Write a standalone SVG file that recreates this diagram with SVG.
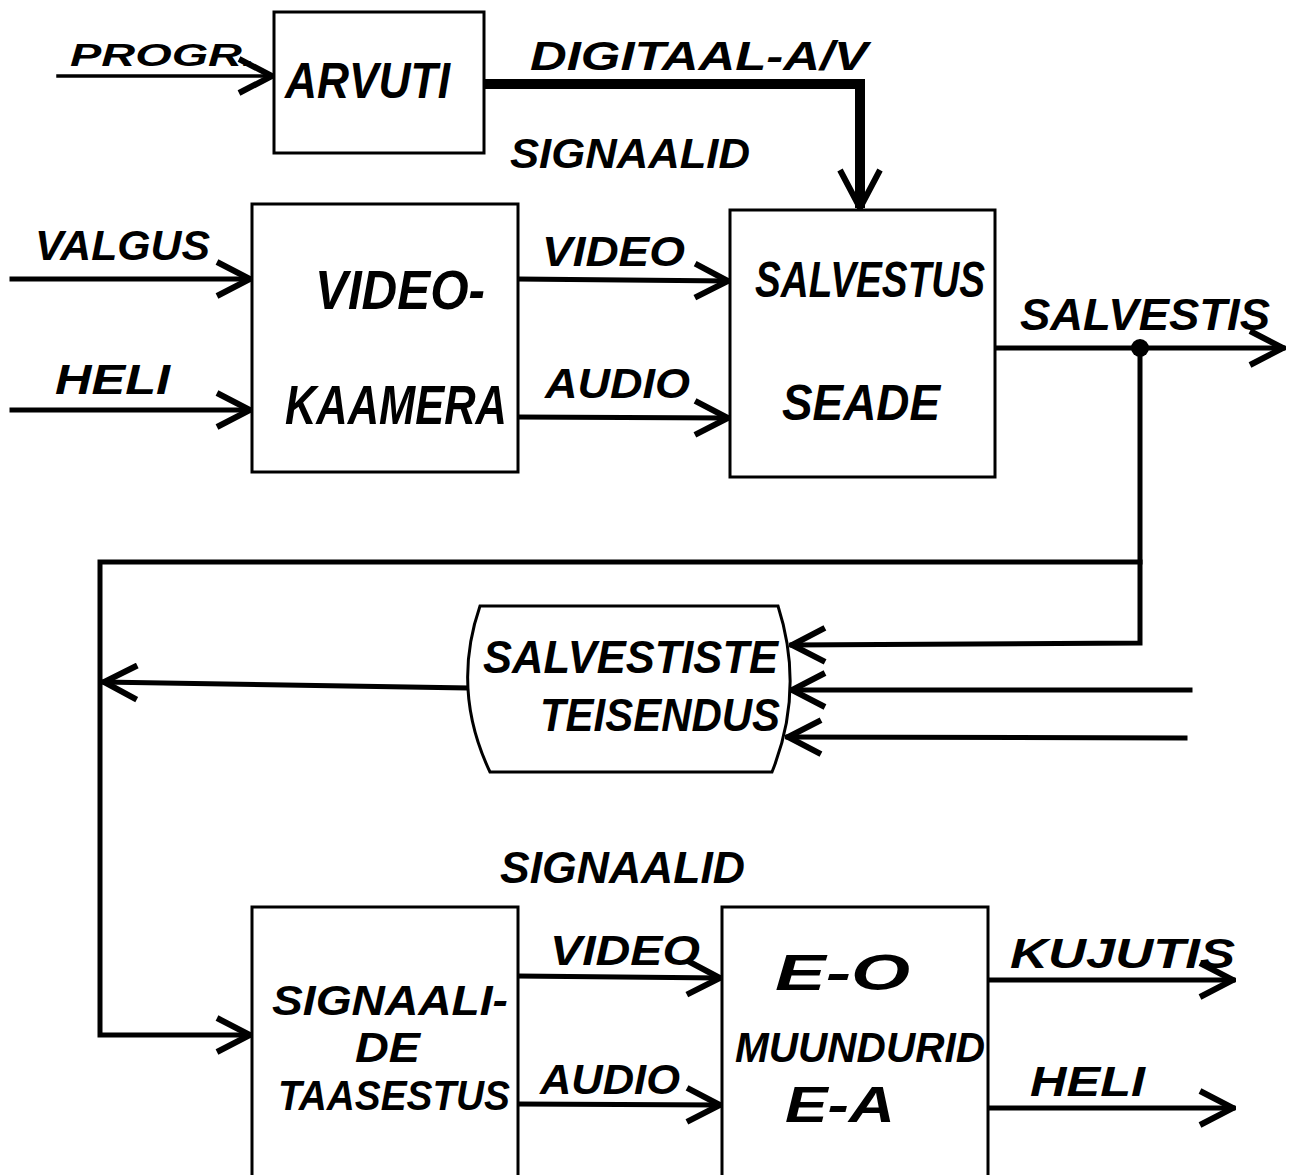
<svg xmlns="http://www.w3.org/2000/svg" width="1289" height="1175" viewBox="0 0 1289 1175">
<style>
.box{fill:#fff;stroke:#000;stroke-width:3}
.ln{fill:none;stroke:#000;stroke-width:5;stroke-linecap:square}
.thick{fill:none;stroke:#000;stroke-width:10}
text{font-family:"Liberation Sans",Arial,sans-serif;font-style:italic;font-weight:bold;fill:#000}
.s{font-size:38px}
.m{font-size:46px}
.l{font-size:56px}
</style>
<defs>
<marker id="ah" viewBox="0 0 40 40" refX="37" refY="20" markerWidth="40" markerHeight="40" markerUnits="userSpaceOnUse" orient="auto">
<path d="M4,3 L37,20 L4,37" fill="none" stroke="#000" stroke-width="6"/>
</marker>
<marker id="ahb" viewBox="0 0 48 48" refX="44" refY="24" markerWidth="48" markerHeight="48" markerUnits="userSpaceOnUse" orient="auto">
<path d="M6,4 L44,24 L6,44" fill="none" stroke="#000" stroke-width="6"/>
</marker>
</defs>
<rect width="1289" height="1175" fill="#fff"/>
<g id="connectors">
<path class="ln" d="M58,76 L272,76" marker-end="url(#ah)" style="stroke-width:3.5"/>
<path class="thick" d="M484,84 L860,84 L860,208" marker-end="url(#ahb)" style="stroke-linecap:butt;stroke-linejoin:miter"/>
<path class="ln" d="M12,279 L250,279" marker-end="url(#ah)"/>
<path class="ln" d="M12,410 L250,410" marker-end="url(#ah)"/>
<path class="ln" d="M518,279 L728,281" marker-end="url(#ah)"/>
<path class="ln" d="M518,417 L728,418" marker-end="url(#ah)"/>
<path class="ln" d="M995,348 L1283,348" marker-end="url(#ah)"/>
<path class="ln" d="M1140,348 L1140,643 L792,645" marker-end="url(#ah)" style="stroke-linejoin:miter"/>
<path class="ln" d="M1140,562 L100,562 L100,1035 L250,1035" marker-end="url(#ah)" style="stroke-linejoin:miter"/>
<path class="ln" d="M1190,690 L792,690" marker-end="url(#ah)"/>
<path class="ln" d="M1185,738 L788,737" marker-end="url(#ah)"/>
<path class="ln" d="M468,688 L104,682" marker-end="url(#ah)"/>
<path class="ln" d="M518,976 L720,978" marker-end="url(#ah)"/>
<path class="ln" d="M518,1104 L720,1105" marker-end="url(#ah)"/>
<path class="ln" d="M988,980 L1233,980" marker-end="url(#ah)"/>
<path class="ln" d="M988,1108 L1233,1108" marker-end="url(#ah)"/>
<circle cx="1140" cy="348" r="9" fill="#000"/>
</g>
<g id="arvuti">
<rect class="box" x="274" y="12" width="210" height="141"/>
<text class="l" x="285" y="98" textLength="165" lengthAdjust="spacingAndGlyphs" style="font-size:50px">ARVUTI</text>
</g>
<g id="videokaamera">
<rect class="box" x="252" y="204" width="266" height="268"/>
<text class="l" x="315" y="309" textLength="170" lengthAdjust="spacingAndGlyphs">VIDEO-</text>
<text class="l" x="285" y="424" textLength="222" lengthAdjust="spacingAndGlyphs">KAAMERA</text>
</g>
<g id="salvestusseade">
<rect class="box" x="730" y="210" width="265" height="267"/>
<text class="m" x="755" y="297" textLength="230" lengthAdjust="spacingAndGlyphs" style="font-size:50px">SALVESTUS</text>
<text class="m" x="782" y="420" textLength="158" lengthAdjust="spacingAndGlyphs" style="font-size:50px">SEADE</text>
</g>
<g id="teisendus">
<path class="box" d="M480,606 L778,606 Q805,690 772,772 L490,772 Q451,690 480,606 Z"/>
<text class="m" x="483" y="673" textLength="295" lengthAdjust="spacingAndGlyphs">SALVESTISTE</text>
<text class="m" x="540" y="731" textLength="240" lengthAdjust="spacingAndGlyphs">TEISENDUS</text>
</g>
<g id="taasestus">
<rect class="box" x="252" y="907" width="266" height="275"/>
<text class="m" x="272" y="1015" textLength="236" lengthAdjust="spacingAndGlyphs" style="font-size:42px">SIGNAALI-</text>
<text class="m" x="355" y="1062" textLength="65" lengthAdjust="spacingAndGlyphs" style="font-size:42px">DE</text>
<text class="m" x="278" y="1110" textLength="232" lengthAdjust="spacingAndGlyphs" style="font-size:42px">TAASESTUS</text>
</g>
<g id="muundurid">
<rect class="box" x="722" y="907" width="266" height="275"/>
<text class="m" x="775" y="990" textLength="135" lengthAdjust="spacingAndGlyphs" style="font-size:50px">E-O</text>
<text class="m" x="735" y="1062" textLength="250" lengthAdjust="spacingAndGlyphs" style="font-size:42px">MUUNDURID</text>
<text class="m" x="785" y="1122" textLength="110" lengthAdjust="spacingAndGlyphs" style="font-size:50px">E-A</text>
</g>
<g id="labels">
<text class="s" x="70" y="66" textLength="185" lengthAdjust="spacingAndGlyphs" style="font-size:32px">PROGR.</text>
<text class="s" x="530" y="70" textLength="338" lengthAdjust="spacingAndGlyphs" style="font-size:40px">DIGITAAL-A/V</text>
<text class="s" x="510" y="168" textLength="240" lengthAdjust="spacingAndGlyphs" style="font-size:42px">SIGNAALID</text>
<text class="s" x="35" y="260" textLength="175" lengthAdjust="spacingAndGlyphs" style="font-size:42px">VALGUS</text>
<text class="s" x="55" y="394" textLength="115" lengthAdjust="spacingAndGlyphs" style="font-size:42px">HELI</text>
<text class="s" x="542" y="266" textLength="143" lengthAdjust="spacingAndGlyphs" style="font-size:42px">VIDEO</text>
<text class="s" x="545" y="398" textLength="145" lengthAdjust="spacingAndGlyphs" style="font-size:42px">AUDIO</text>
<text class="s" x="1020" y="330" textLength="250" lengthAdjust="spacingAndGlyphs" style="font-size:44px">SALVESTIS</text>
<text class="s" x="500" y="883" textLength="245" lengthAdjust="spacingAndGlyphs" style="font-size:44px">SIGNAALID</text>
<text class="s" x="550" y="965" textLength="150" lengthAdjust="spacingAndGlyphs" style="font-size:42px">VIDEO</text>
<text class="s" x="540" y="1094" textLength="140" lengthAdjust="spacingAndGlyphs" style="font-size:42px">AUDIO</text>
<text class="s" x="1010" y="968" textLength="225" lengthAdjust="spacingAndGlyphs" style="font-size:42px">KUJUTIS</text>
<text class="s" x="1030" y="1096" textLength="115" lengthAdjust="spacingAndGlyphs" style="font-size:42px">HELI</text>
</g>
</svg>
